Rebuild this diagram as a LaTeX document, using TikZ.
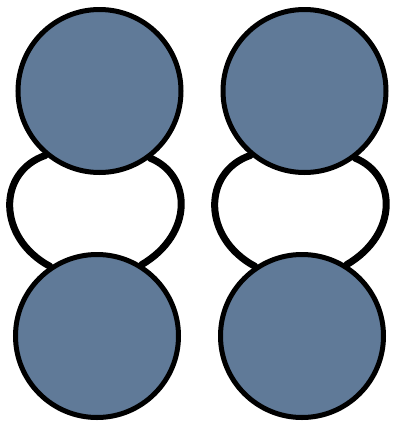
\documentclass[tikz,border=0pt]{standalone}
\usepackage{tikz}
\usetikzlibrary{backgrounds}
\definecolor{BallBlue}{RGB}{96,122,152}
\tikzset{
  ball/.style={circle, draw=black, line width=5pt, fill=BallBlue, minimum size=163pt, inner sep=0pt},
  bond/.style={line width=7pt, draw=black, line cap=round},
}

\begin{document}
\begin{tikzpicture}[x=1pt, y=-1pt]
  \useasboundingbox (0,0) rectangle (394,421);
  \foreach \s/\dx in {l/0, r/205} {
    \begin{scope}[xshift=\dx pt]
      \node[ball] (top\s) at (99.5,91) {};
      \node[ball] (bot\s) at (97,336) {};
      % the two strands between the balls
      \begin{pgfonlayer}{background}
        \draw[bond] (top\s.230) .. controls (-3,172) and (-3,238) .. (bot\s.124);
        \draw[bond] (top\s.307) .. controls (192,175) and (194,234) .. (bot\s.58);
      \end{pgfonlayer}
    \end{scope}
  }
\end{tikzpicture}
\end{document}
